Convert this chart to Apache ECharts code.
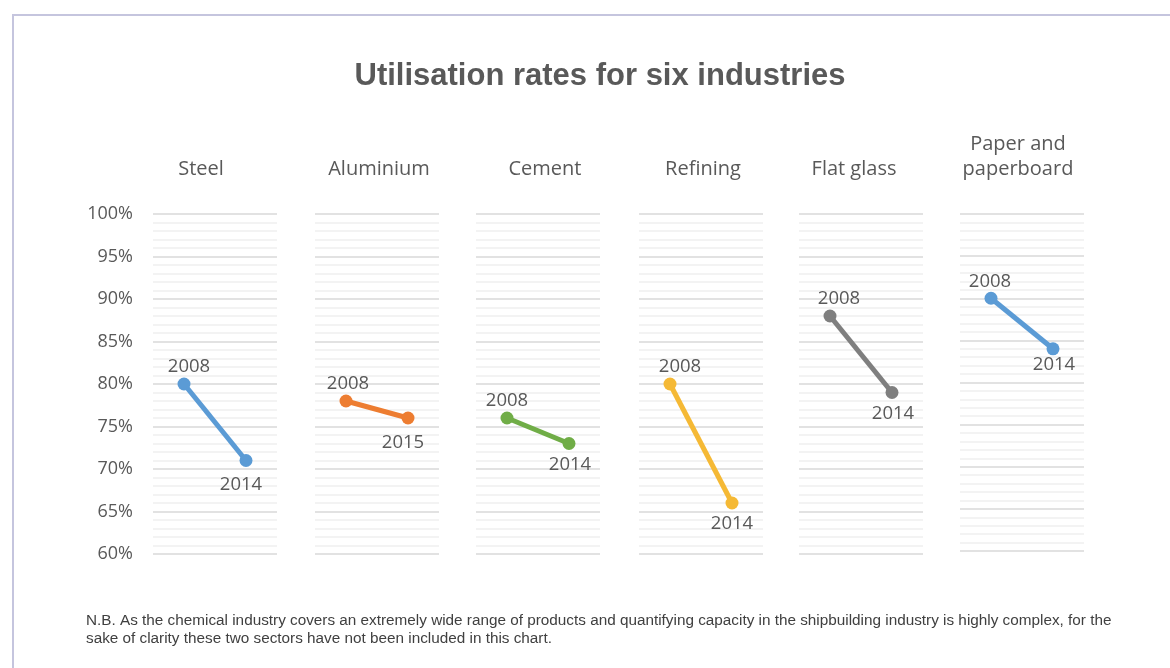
<!DOCTYPE html>
<html>
<head>
<meta charset="utf-8">
<script src="https://cdn.jsdelivr.net/npm/echarts@6/dist/echarts.min.js"></script>
<style>
html,body{margin:0;padding:0;background:#fff;}
#frame{position:absolute;left:12px;top:14px;width:1170px;height:700px;border-left:2px solid #c5c5de;border-top:2px solid #c5c5de;box-sizing:border-box;}
#chart{position:absolute;left:0;top:0;width:1170px;height:668px;}
</style>
</head>
<body>
<div id="frame"></div>
<div id="chart"></div>
<script>
const industries = ['Steel', 'Aluminium', 'Cement', 'Refining', 'Flat glass', 'Paper and\npaperboard'];
const startYears = ['2008', '2008', '2008', '2008', '2008', '2008'];
const endYears = ['2014', '2015', '2014', '2014', '2014', '2014'];
const startValues = [80, 78, 76, 80, 88, 90];
const endValues = [71, 76, 73, 66, 79, 84];
const yTicks = [60, 65, 70, 75, 80, 85, 90, 95, 100];

// layout / style
const colors = ['#5B9BD5', '#ED7D31', '#70AD47', '#F5B935', '#7F7F7F', '#5B9BD5'];
const lefts = [153, 315, 476, 639, 799, 960];
const heights = [340, 340, 340, 340, 340, 337];
const titleCenters = [201, 379, 545, 703, 854, 1018];
const topLabelDx = [5, 2, 0, 10, 9, -1];
const bottomLabelDx = [-5, -5, 1, 0, 1, 1];
const bottomLabelDy = [3, 4, 0, 0, 0, -5];
const panelW = 124;
const FONT = '"Open Sans", "DejaVu Sans", sans-serif';

const chart = echarts.init(document.getElementById('chart'), null, {renderer: 'canvas'});

const grids = [], xAxes = [], yAxes = [], series = [], graphics = [];
industries.forEach((name, i) => {
  grids.push({left: lefts[i], top: 214, width: panelW, height: heights[i], containLabel: false});
  xAxes.push({
    type: 'category', gridIndex: i, data: [startYears[i], endYears[i]], boundaryGap: true,
    axisLine: {show: false}, axisTick: {show: false}, axisLabel: {show: false}, splitLine: {show: false}
  });
  yAxes.push({
    type: 'value', gridIndex: i, min: yTicks[0], max: yTicks[yTicks.length - 1], interval: 5,
    axisLine: {show: false}, axisTick: {show: false},
    axisLabel: {show: i === 0, formatter: v => v + '%', color: '#595959', fontSize: 18, fontFamily: FONT, margin: 20},
    splitLine: {show: true, lineStyle: {color: '#d9d9d9', width: 1.5}},
    minorTick: {show: false, splitNumber: 5},
    minorSplitLine: {show: true, lineStyle: {color: '#efefef', width: 1.5}}
  });
  series.push({
    type: 'line', xAxisIndex: i, yAxisIndex: i,
    data: [
      {value: startValues[i], label: {position: 'top', distance: 1, offset: [topLabelDx[i], 0], formatter: startYears[i]}},
      {value: endValues[i], label: {position: 'bottom', distance: 5, offset: [bottomLabelDx[i], bottomLabelDy[i]], formatter: endYears[i]}}
    ],
    symbol: 'circle', symbolSize: 13,
    lineStyle: {color: colors[i], width: 5},
    itemStyle: {color: colors[i]},
    label: {show: true, color: '#595959', fontSize: 18.5, fontFamily: FONT},
    silent: true, animation: false
  });
  graphics.push({
    type: 'text', x: titleCenters[i], y: 182,
    style: {text: name, textAlign: 'center', textVerticalAlign: 'bottom',
      font: '20px ' + FONT, fill: '#595959', lineHeight: 25}
  });
});

graphics.push({
  type: 'text', x: 600, y: 76,
  style: {text: 'Utilisation rates for six industries', textAlign: 'center', textVerticalAlign: 'middle',
    font: 'bold 31px "Liberation Sans", Arial, sans-serif', fill: '#595959'}
});

graphics.push({
  type: 'text', x: 86, y: 612,
  style: {text: 'N.B. As the chemical industry covers an extremely wide range of products and quantifying capacity in the shipbuilding industry is highly complex, for the\nsake of clarity these two sectors have not been included in this chart.',
    font: '15.3px "Liberation Sans", Arial, sans-serif', fill: '#404040', lineHeight: 18}
});

chart.setOption({
  animation: false,
  grid: grids, xAxis: xAxes, yAxis: yAxes, series: series, graphic: graphics
});
</script>
</body>
</html>
